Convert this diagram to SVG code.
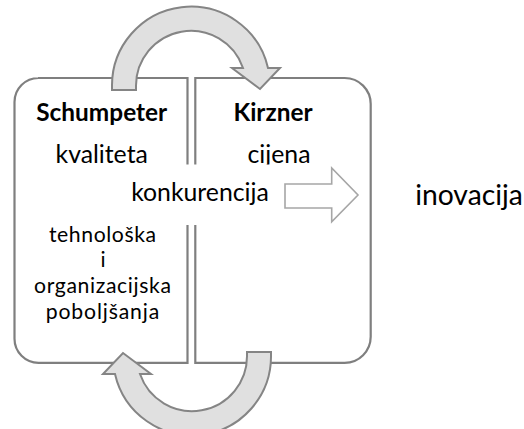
<svg xmlns="http://www.w3.org/2000/svg" width="524" height="429" viewBox="0 0 524 429">
<defs>
<style>
.box{fill:#fff;stroke:#7f7f7f;stroke-width:2.2}
.carrow{fill:#e0e0e0;stroke:#858585;stroke-width:2;stroke-linejoin:miter}
.barrow{fill:#fff;stroke:#a6a6a6;stroke-width:1.6}
text{font-family:Lato,"Liberation Sans",sans-serif;font-size:24.8px;fill:#000;text-anchor:middle}
.b{font-weight:bold;font-size:24.4px}
.s{font-size:21.2px}
.l{font-size:28.3px}
</style>
<path id="circ" d="M112,90 L112,87 A79,79 0 0 1 268,68 L280,68 L260,89 L232,68 L243,68 A55,55 0 0 0 136,87 L136,90 Z"/>
</defs>
<g id="schumpeter">
<path class="box" d="M38,78 H187.5 V362.8 H38.5 A24,24 0 0 1 14.5,338.8 V102 A24,24 0 0 1 38.5,78 Z"/>
<text class="b" x="101.7" y="121">Schumpeter</text>
<text x="101.7" y="163">kvaliteta</text>
<text class="s" x="102.5" y="241.5" textLength="107" lengthAdjust="spacing">tehnološka</text>
<text class="s" x="103" y="267.3">i</text>
<text class="s" x="102.5" y="293.1" textLength="137" lengthAdjust="spacing">organizacijska</text>
<text class="s" x="102.5" y="318.9" textLength="113.5" lengthAdjust="spacing">poboljšanja</text>
</g>
<g id="kirzner">
<path class="box" d="M195.3,78 H344.7 A26,26 0 0 1 370.7,104 V336.8 A26,26 0 0 1 344.7,362.8 H195.3 Z"/>
<text class="b" x="273" y="121">Kirzner</text>
<text x="279" y="163">cijena</text>
</g>
<g id="konkurencija">
<rect x="124" y="164.5" width="154" height="60.5" fill="#fff"/>
<text x="200" y="200.5">konkurencija</text>
</g>
<g id="inovacija">
<text class="l" x="469" y="205">inovacija</text>
</g>
<g id="connectors">
<path class="barrow" d="M285,184 H331.7 V168 L358,195 L331.7,221.7 V208 H285 Z"/>
<use href="#circ" class="carrow"/>
<use href="#circ" class="carrow" transform="rotate(180 191.5 221)"/>
</g>
</svg>
